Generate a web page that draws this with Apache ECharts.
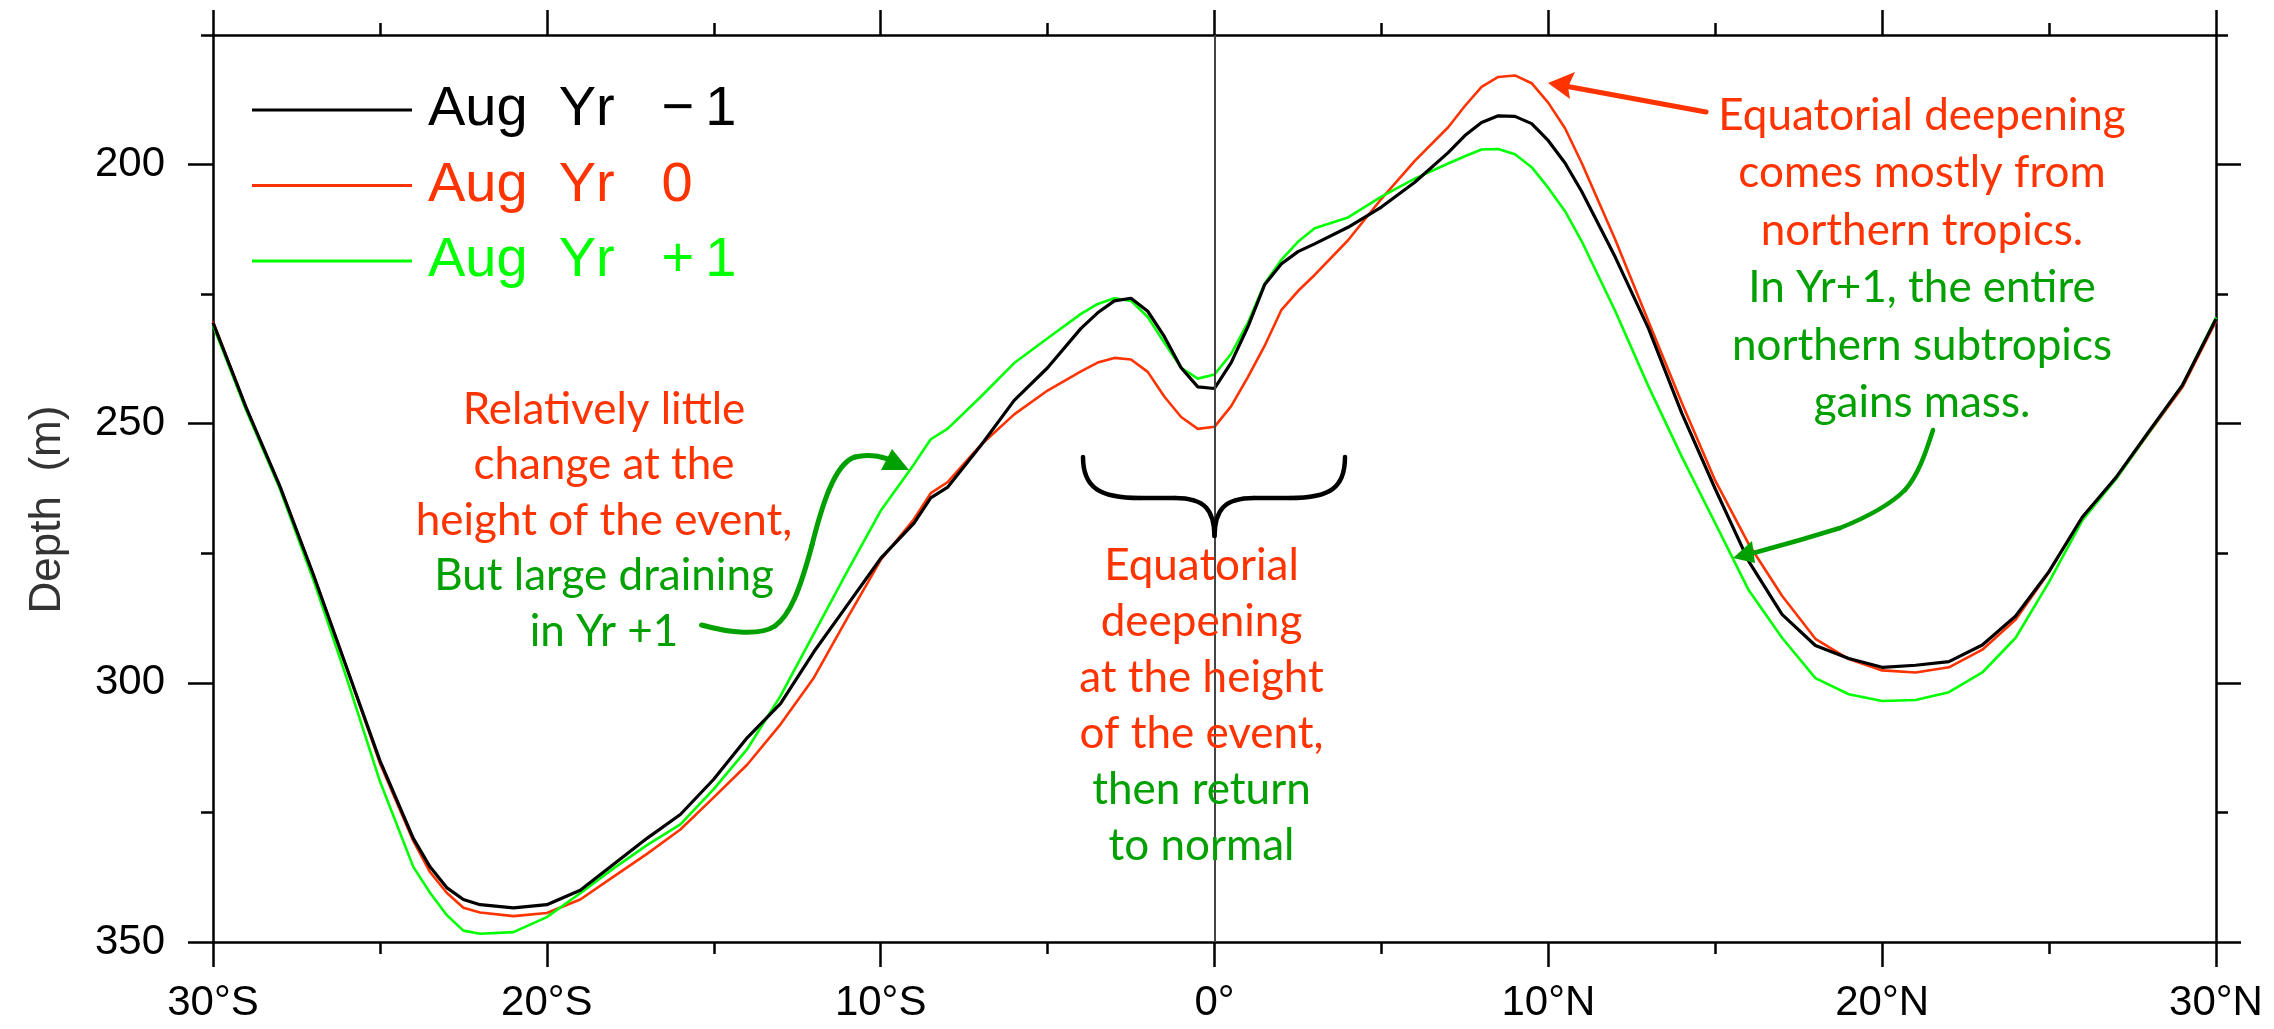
<!DOCTYPE html>
<html>
<head>
<meta charset="utf-8">
<script src="https://cdn.jsdelivr.net/npm/echarts@6/dist/echarts.min.js"></script>
<style>
html,body{margin:0;padding:0;background:#fff;}
#chart{width:2274px;height:1029px;}
</style>
</head>
<body>
<div id="chart"></div>
<script>
// ---- data ----
const lats = [-30,-29,-28,-27,-26,-25,-24,-23.5,-23,-22.5,-22,-21,-20,-19,-18,-17,-16,-15,-14,-13,-12,-11,-10,-9,-8.5,-8,-7,-6,-5,-4,-3.5,-3,-2.5,-2,-1.5,-1,-0.5,0,0.5,1,1.5,2,2.5,3,4,5,6,7,7.5,8,8.5,9,9.5,10,10.5,11,12,13,14,15,16,17,18,19,20,21,22,23,24,25,26,27,28,29,30];
const augYrMinus1 = [230.5,247,262,279,297,315,330,335.5,339.5,341.8,342.8,343.4,342.8,340,335,330,325.4,318.6,310.6,304,294,285,276,269.2,264.3,262.3,254.2,245.5,239.2,231.6,228.6,226.3,225.8,228.3,233.2,239.2,242.9,243.2,238.2,231.3,223.2,219.2,216.8,215.3,212.1,208.2,203.4,197.7,194.4,191.9,190.6,190.7,192.1,195.4,199.7,205.2,217.8,231.6,248,262.6,276.5,286.8,292.8,295.3,297,296.6,295.9,292.7,287.1,278.5,268,260.4,251.4,242.5,229.8];
const augYr0 = [230.3,247,262,279,297,315.5,330.5,336.5,340.5,343.4,344.3,345,344.4,341.8,337.4,333,328.3,322.1,315.8,308,299,287.5,276.3,268.4,263.4,261.3,254.1,248.2,243.6,239.9,238.2,237.3,237.6,240,244.8,248.7,251,250.6,246.6,241,235,228.1,224.4,221.3,214.6,206.6,199.3,192.8,188.7,185,183.1,182.8,184.3,188.1,193,199.7,214.4,230.3,246,261,273.2,283.2,291.5,295.4,297.6,298,297,293.6,287.8,278.6,267.9,260.6,251.7,242.9,230.2];
const augYrPlus1 = [231,247.5,262.5,280,299,319,335.5,340.5,344.8,347.8,348.4,348.1,345.2,340.6,335.8,331.3,327.3,320.5,312.8,302.5,290.5,278.5,266.8,257.8,253,251,244.8,238.3,233.5,228.8,226.9,225.8,226.3,229.4,234.4,239.2,241.3,240.5,236.5,230.5,223,218.4,214.9,212.3,210.2,206.2,202.7,199.8,198.4,197.1,197,198,200.5,204.5,209,214.8,228.2,242.8,256.4,269.2,282.1,291.3,299.1,302.2,303.5,303.3,301.8,298,291.3,280.5,268.6,260.7,251.6,242.5,229.5];
const seriesNames = ['Aug  Yr   \u2212\u20091', 'Aug  Yr   0', 'Aug  Yr   +\u20091'];
const yMajorTicks = [200, 250, 300, 350];
const yMinorTicks = [175, 225, 275, 325];
const xRange = [-30, 30];
const yRange = [175, 350];

// ---- styles ----
const RED = '#ff3300';
const LIME = '#00ff00';
const DKGREEN = '#00a000';
const AXFONT = "'Liberation Sans', Arial, sans-serif";
const NOTEFONT = "Lato, 'Open Sans', sans-serif";

function latLabel(v){
  if (v < 0) return (-v) + '\u00b0S';
  if (v > 0) return v + '\u00b0N';
  return '0\u00b0';
}
function pairs(arr){ return lats.map((x,i)=>[x, arr[i]]); }

const axisLineStyle = {color:'#000', width:2.5};

function xAxisDef(pos, showLabel){
  return {
    type:'value', position:pos, min:xRange[0], max:xRange[1], interval:10,
    axisLine:{show:true, onZero:false, lineStyle:axisLineStyle},
    axisTick:{show:true, inside:false, length:25, lineStyle:{color:'#000', width:2.5}},
    minorTick:{show:true, splitNumber:2, length:12, lineStyle:{color:'#000', width:2.5}},
    axisLabel:{show:showLabel, formatter:latLabel, margin:40, fontSize:42, fontFamily:AXFONT, color:'#000'},
    splitLine:{show:false}, minorSplitLine:{show:false}
  };
}
function yAxisDef(pos, major, showLabel, showLine){
  const o = {
    type:'value', position:pos, min:yRange[0], max:yRange[1], inverse:true,
    axisLine:{show:showLine, onZero:false, lineStyle:axisLineStyle},
    axisTick:{show:true, inside:false, length: major?25:12, customValues: major?yMajorTicks:yMinorTicks,
              lineStyle:{color:'#000', width:2.5}},
    axisLabel:{show:showLabel, customValues:yMajorTicks, margin:48, fontSize:42, fontFamily:AXFONT, color:'#000'},
    splitLine:{show:false}
  };
  if (showLabel){
    o.name = 'Depth  (m)';
    o.nameLocation = 'middle';
    o.nameGap = 143;
    o.nameTextStyle = {fontSize:44, fontFamily:AXFONT, color:'#333', padding:[0,42,0,0]};
  }
  return o;
}

const series = [
  {name:seriesNames[0], type:'line', data:pairs(augYrMinus1), symbol:'none', smooth:false,
   lineStyle:{color:'#000', width:3.2}, itemStyle:{color:'#000'}, z:3,
   markLine:{silent:true, symbol:['none','none'], label:{show:false},
     lineStyle:{color:'#444', width:2, type:'solid'}, data:[{xAxis:0}]}},
  {name:seriesNames[1], type:'line', data:pairs(augYr0), symbol:'none', smooth:false,
   lineStyle:{color:RED, width:2.6}, itemStyle:{color:RED}, z:2},
  {name:seriesNames[2], type:'line', data:pairs(augYrPlus1), symbol:'none', smooth:false,
   lineStyle:{color:LIME, width:2.6}, itemStyle:{color:LIME}, z:2}
];

function textLine(t, x, baseline, color){
  return {type:'text', z:10, style:{text:t, x:x, y:baseline-13, fill:color,
    font:"44px " + NOTEFONT, align:'center', verticalAlign:'middle'}};
}
function bez(p0, c1, c2, p1, color, w){
  return {type:'bezierCurve', z:9, shape:{x1:p0[0], y1:p0[1], cpx1:c1[0], cpy1:c1[1], cpx2:c2[0], cpy2:c2[1], x2:p1[0], y2:p1[1]},
    style:{fill:null, stroke:color, lineWidth:w, lineCap:'round'}};
}
function pline(pts, color, w){
  return {type:'polyline', z:9, shape:{points:pts}, style:{fill:null, stroke:color, lineWidth:w, lineCap:'round', lineJoin:'round'}};
}
function head(pts, color){
  return {type:'polygon', z:9, shape:{points:pts}, style:{fill:color}};
}

const notes = [];
[['Relatively little',RED],['change at the',RED],['height of the event,',RED],['But large draining',DKGREEN],['in Yr +1',DKGREEN]]
  .forEach((l,i)=>notes.push(textLine(l[0], 604, 422.5 + i*55.5, l[1])));
[['Equatorial',RED],['deepening',RED],['at the height',RED],['of the event,',RED],['then return',DKGREEN],['to normal',DKGREEN]]
  .forEach((l,i)=>notes.push(textLine(l[0], 1201.5, 579 + i*56, l[1])));
[['Equatorial deepening',RED],['comes mostly from',RED],['northern tropics.',RED],['In Yr+1, the entire',DKGREEN],['northern subtropics',DKGREEN],['gains mass.',DKGREEN]]
  .forEach((l,i)=>notes.push(textLine(l[0], 1922, 128.5 + i*57.5, l[1])));

// green arrow (left)
notes.push(bez([701.6,625],[730,633],[760,636],[775,626], DKGREEN, 5));
notes.push(bez([775,626],[790,615],[800,590],[812,545], DKGREEN, 5));
notes.push(bez([812,545],[822,505],[835,463],[855,457], DKGREEN, 5));
notes.push(bez([855,457],[870,453],[886,457],[897,463], DKGREEN, 5));
notes.push(head([[909,470],[881,470],[892,449]], DKGREEN));
// red arrow
notes.push(pline([[1706,112],[1565,86]], RED, 5));
notes.push(head([[1548,83],[1575,72],[1568,87],[1570,99]], RED));
// green arrow (right)
notes.push(bez([1933,430],[1925,455],[1918,475],[1905,490], DKGREEN, 4.5));
notes.push(bez([1905,490],[1890,505],[1865,518],[1840,528], DKGREEN, 4.5));
notes.push(pline([[1840,528],[1800,540],[1750,554]], DKGREEN, 4.5));
notes.push(head([[1733,558],[1752,541],[1755,563]], DKGREEN));
// brace
notes.push(bez([1083,457],[1083,488],[1100,498],[1140,498], '#000', 4.5));
notes.push(pline([[1140,498],[1175,498]], '#000', 4.5));
notes.push(bez([1175,498],[1205,498],[1214,510],[1214.5,536], '#000', 4.5));
notes.push(bez([1214.5,536],[1215,510],[1224,498],[1254,498], '#000', 4.5));
notes.push(pline([[1254,498],[1290,498]], '#000', 4.5));
notes.push(bez([1290,498],[1330,498],[1345,488],[1345,457], '#000', 4.5));

const option = {
  animation:false,
  backgroundColor:'#fff',
  grid:{left:213, right:58, top:35, bottom:87, containLabel:false},
  legend:{
    orient:'vertical', left:252, top:82, padding:0, itemGap:19.5,
    itemWidth:160, itemHeight:3, icon:'rect',
    textStyle:{fontSize:56, fontFamily:AXFONT, lineHeight:56, padding:[0,0,0,11]},
    data:[
      {name:seriesNames[0], textStyle:{color:'#000'}},
      {name:seriesNames[1], textStyle:{color:RED}},
      {name:seriesNames[2], textStyle:{color:LIME}}
    ]
  },
  xAxis:[xAxisDef('bottom', true), xAxisDef('top', false)],
  yAxis:[yAxisDef('left', true, true, true), yAxisDef('left', false, false, false),
         yAxisDef('right', true, false, true), yAxisDef('right', false, false, false)],
  series:series,
  graphic:notes
};

const chart = echarts.init(document.getElementById('chart'), null, {renderer:'canvas'});
chart.setOption(option);
</script>
</body>
</html>
